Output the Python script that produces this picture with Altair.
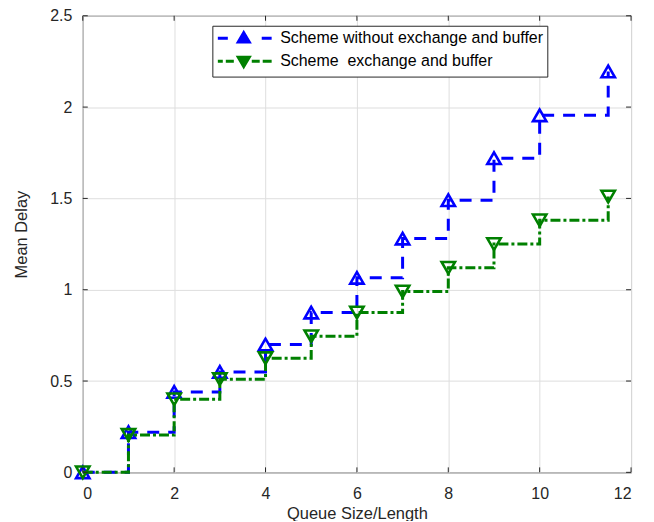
import altair as alt
import pandas as pd

# ---- data ----
S1 = "Scheme without exchange and buffer"
S2 = "Scheme  exchange and buffer"
queue = [0, 1, 2, 3, 4, 5, 6, 7, 8, 9, 10, 11.5]
delay_without = [0, 0.22, 0.44, 0.55, 0.70, 0.875, 1.065, 1.28, 1.49, 1.72, 1.955, 2.195]
delay_with = [0, 0.205, 0.40, 0.51, 0.625, 0.745, 0.875, 0.99, 1.12, 1.25, 1.38, 1.51]
xticks = [0, 2, 4, 6, 8, 10, 12]
yticks = [0, 0.5, 1, 1.5, 2, 2.5]

series = [S1, S2]
colors = ["#0000FF", "#008000"]

df = pd.DataFrame({
    "q": queue * 2,
    "d": delay_without + delay_with,
    "s": [S1] * len(queue) + [S2] * len(queue),
})
xt = pd.DataFrame({"v": xticks})
yt = pd.DataFrame({"v": yticks})

FONT = "Liberation Sans"
AX = "#262626"

xscale = alt.Scale(domain=[0, 12], nice=False, zero=False)
yscale = alt.Scale(domain=[0, 2.5], nice=False, zero=False)
cscale = alt.Scale(domain=series, range=colors)

X = alt.X("q:Q", scale=xscale, axis=alt.Axis(
    values=xticks, title="Queue Size/Length", grid=True, ticks=False, tickSize=0,
    domain=False, labelPadding=13, titleX=275, titleY=46,
    titleBaseline="alphabetic", titleAlign="center"))
Y = alt.Y("d:Q", scale=yscale, axis=alt.Axis(
    values=yticks, title="Mean Delay", grid=True, ticks=False, tickSize=0,
    domain=False, labelPadding=11, format="~g", titleX=-61, titleY=219,
    titleBaseline="middle", titleAlign="center", titleAngle=-90))

base = alt.Chart(df)


def series_layers(name, color, dash, shape):
    b = base.transform_filter(alt.datum.s == name)
    ln = b.mark_line(interpolate="step-after", strokeWidth=3, color=color,
                     strokeDash=dash).encode(x=X, y=Y)
    pt = b.mark_point(shape=shape, filled=False, size=180, strokeWidth=2.6,
                      opacity=1, color=color).encode(x="q:Q", y="d:Q")
    return [ln, pt]


layers = series_layers(S1, colors[0], [12, 9], "triangle-up") + \
    series_layers(S2, colors[1], [10, 3, 3, 3], "triangle-down")

# legend symbols: dashes + filled triangle (unit = half symbol width)
p_up = "M-1,0H0.43M2.71,-0.78L3.5,0.55L1.93,0.55ZM5.29,0H6.71"
p_dn = "M-1,0H-0.29M0.14,0H1.29M2.71,0.78L3.5,-0.55L1.93,-0.55ZM3.86,0H5M5.43,0H6.71"

leg = dict(title=None, orient="none", legendX=130, legendY=10, padding=4,
           strokeColor=AX, fillColor="white", cornerRadius=0,
           labelFont=FONT, labelFontSize=16, labelColor="#000000",
           labelLimit=400,
           labelOffset=47, rowPadding=2, symbolSize=196, symbolStrokeWidth=3,
           symbolOpacity=1,
           labelExpr="replace(datum.label, '  ', ' \u00a0')")

legend_layer = base.mark_point(
    filled=True, size=196, strokeWidth=3, opacity=0
).encode(
    x="q:Q", y="d:Q",
    color=alt.Color("s:N", scale=cscale, legend=alt.Legend(**leg)),
    stroke=alt.Stroke("s:N", scale=cscale, legend=alt.Legend(**leg)),
    shape=alt.Shape("s:N", scale=alt.Scale(domain=series, range=[p_up, p_dn]), legend=alt.Legend(**leg)),
)

tick_style = dict(color=AX, strokeWidth=1)
t_bottom = alt.Chart(xt).mark_rule(y2Offset=-5, **tick_style).encode(
    x=alt.X("v:Q", scale=xscale), y=alt.datum(0), y2=alt.datum(0))
t_top = alt.Chart(xt).mark_rule(y2Offset=5, **tick_style).encode(
    x=alt.X("v:Q", scale=xscale), y=alt.datum(2.5), y2=alt.datum(2.5))
t_left = alt.Chart(yt).mark_rule(x2Offset=5, **tick_style).encode(
    y=alt.Y("v:Q", scale=yscale), x=alt.datum(0), x2=alt.datum(0))
t_right = alt.Chart(yt).mark_rule(x2Offset=-5, **tick_style).encode(
    y=alt.Y("v:Q", scale=yscale), x=alt.datum(12), x2=alt.datum(12))

chart = alt.layer(
    *layers, t_bottom, t_top, t_left, t_right, legend_layer
).properties(
    width=550, height=458,
    autosize=alt.AutoSizeParams(type="none"),
    padding={"left": 75, "top": 7, "right": 15, "bottom": 48},
    background="white",
).configure_view(
    stroke=AX, strokeWidth=1
).configure_axis(
    labelFont=FONT, labelFontSize=16, labelColor=AX,
    titleFont=FONT, titleFontSize=16.5, titleColor=AX, titleFontWeight="normal",
    gridColor="#dedede", gridWidth=1, gridOpacity=1,
)

chart.save("out.html", embed_options={"renderer": "svg", "actions": False})
